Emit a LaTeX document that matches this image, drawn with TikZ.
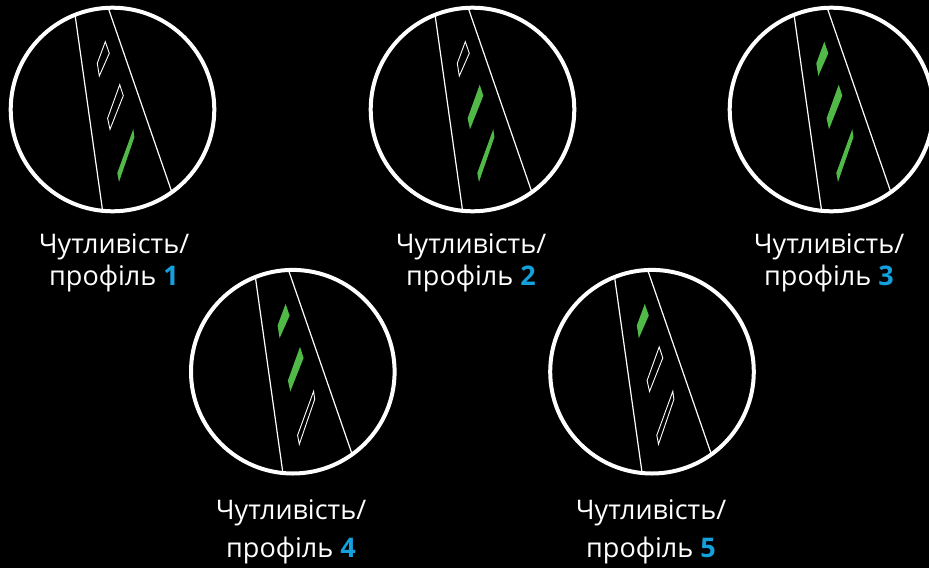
\documentclass[tikz,border=0pt]{standalone}
\usepackage{fontspec}
\setmainfont{Open Sans}
\definecolor{lensgreen}{RGB}{80,185,72}
\definecolor{numblue}{RGB}{20,160,220}
\tikzset{
  ring/.style={draw=white, line width=4pt},
  chord/.style={draw=white, line width=1.2pt},
  segon/.style={fill=lensgreen},
  segoff/.style={draw=white, line width=0.9pt, line join=miter},
  lbl/.style={text=white, font=\fontsize{27}{27}\selectfont, inner sep=0pt, anchor=base},
}
\newcommand{\lensview}[5]{%
  \begin{scope}[shift={(#1,#2)}]
    \begin{scope}
      \clip (0,0) circle[radius=101.8pt];
      \draw[chord] (-39.9,-112.1) -- (-7.3,119.8);
      \draw[chord] (-10.1,-118.4) -- (65.5,100.4);
    \end{scope}
    \path[#3] (-7.2,-67.8) -- (-3.2,-56.2) -- (-13.2,-33.5) -- (-15.2,-46.2) -- cycle;
    \path[#4] (7.2,-24.8) -- (10.8,-13.8) -- (-2.5,19.8) -- (-4.9,8.8) -- cycle;
    \path[#5] (20.8,19.6) -- (21.9,27.6) -- (6.5,72.5) -- (4.8,63.5) -- cycle;
    \draw[ring] (0,0) circle[radius=101.8pt];
  \end{scope}}
\begin{document}
\begin{tikzpicture}[x=1pt,y=-1pt]
  \useasboundingbox (0,0) rectangle (929,568);
  \fill[black] (0,0) rectangle (929,568);
  \clip (0,0) rectangle (929,568);
  \lensview{112.5}{109.5}{segoff}{segoff}{segon}
  \lensview{472.5}{109.5}{segoff}{segon}{segon}
  \lensview{831.5}{109.5}{segon}{segon}{segon}
  \lensview{292.8}{371.7}{segon}{segon}{segoff}
  \lensview{652}{371.7}{segon}{segoff}{segoff}
  \node[lbl] (l1a) at (114,253.3) {Чутливість/};
  \node[lbl] (l1b) at (114,285.5) {профіль {\bfseries\color{numblue}1}};
  \node[lbl] (l2a) at (471,253.3) {Чутливість/};
  \node[lbl] (l2b) at (471,285.5) {профіль {\bfseries\color{numblue}2}};
  \node[lbl] (l3a) at (829,253.3) {Чутливість/};
  \node[lbl] (l3b) at (829,285.5) {профіль {\bfseries\color{numblue}3}};
  \node[lbl] (l4a) at (291,519.5) {Чутливість/};
  \node[lbl] (l4b) at (291,557.5) {профіль {\bfseries\color{numblue}4}};
  \node[lbl] (l5a) at (651,519.5) {Чутливість/};
  \node[lbl] (l5b) at (651,557.5) {профіль {\bfseries\color{numblue}5}};
\end{tikzpicture}
\end{document}
